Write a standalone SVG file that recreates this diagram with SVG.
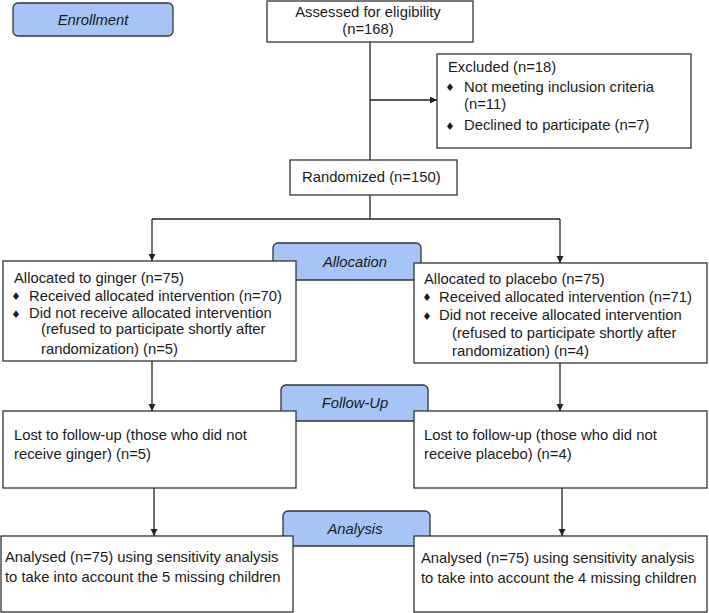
<svg xmlns="http://www.w3.org/2000/svg" width="709" height="613" viewBox="0 0 709 613">
<style>
  .box { fill: #ffffff; stroke: #333333; stroke-width: 1.3; }
  .lbl { fill: #a6c4f5; stroke: #333333; stroke-width: 1.3; }
  .t { font-family: "Liberation Sans", Arial, sans-serif; font-size: 14.8px; fill: #1a1a1a; }
  .ti { font-family: "Liberation Sans", Arial, sans-serif; font-size: 14.8px; font-style: italic; fill: #1a1a1a; text-anchor: middle; }
  .c { text-anchor: middle; }
  .b { font-family: "DejaVu Sans", sans-serif; font-size: 10.5px; fill: #1a1a1a; text-anchor: middle; }
  .ln { stroke: #222222; stroke-width: 1.3; fill: none; }
</style>
<defs>
  <marker id="ah" markerUnits="userSpaceOnUse" markerWidth="8" markerHeight="8" refX="7" refY="3.5" orient="auto">
    <path d="M0,0 L7,3.5 L0,7 z" fill="#222222"/>
  </marker>
</defs>
<rect width="709" height="613" fill="#ffffff"/>

<g id="label-enrollment">
  <rect class="lbl" x="13" y="3" width="160" height="33" rx="5"/>
  <text class="ti" x="93" y="25">Enrollment</text>
</g>
<g id="label-allocation">
  <rect class="lbl" x="273" y="243" width="148" height="37" rx="5"/>
  <text class="ti" x="355" y="267">Allocation</text>
</g>
<g id="label-followup">
  <rect class="lbl" x="281" y="385" width="147" height="36" rx="5"/>
  <text class="ti" x="355" y="408">Follow-Up</text>
</g>
<g id="label-analysis">
  <rect class="lbl" x="283" y="511" width="147" height="35" rx="5"/>
  <text class="ti" x="355" y="534">Analysis</text>
</g>

<g id="connectors">
  <line class="ln" x1="370" y1="42" x2="370" y2="160"/>
  <line class="ln" x1="370" y1="100" x2="437" y2="100" marker-end="url(#ah)"/>
  <line class="ln" x1="370" y1="195" x2="370" y2="219"/>
  <line class="ln" x1="152" y1="219" x2="560" y2="219"/>
  <line class="ln" x1="152" y1="219" x2="152" y2="261" marker-end="url(#ah)"/>
  <line class="ln" x1="560" y1="219" x2="560" y2="263" marker-end="url(#ah)"/>
  <line class="ln" x1="152" y1="361" x2="152" y2="411" marker-end="url(#ah)"/>
  <line class="ln" x1="560" y1="363" x2="560" y2="411" marker-end="url(#ah)"/>
  <line class="ln" x1="154" y1="488" x2="154" y2="536" marker-end="url(#ah)"/>
  <line class="ln" x1="562" y1="488" x2="562" y2="536" marker-end="url(#ah)"/>
</g>

<g id="assessed">
  <rect class="box" x="267" y="1" width="206" height="41"/>
  <text class="t c" x="368" y="17">Assessed for eligibility</text>
  <text class="t c" x="368" y="34">(n=168)</text>
</g>
<g id="excluded">
  <rect class="box" x="437" y="54" width="254" height="94"/>
  <text class="t" x="448" y="72">Excluded (n=18)</text>
  <text class="b" x="450" y="91">♦</text>
  <text class="t" x="464" y="91.5">Not meeting inclusion criteria</text>
  <text class="t" x="464" y="109">(n=11)</text>
  <text class="b" x="450" y="129.5">♦</text>
  <text class="t" x="464" y="130">Declined to participate (n=7)</text>
</g>
<g id="randomized">
  <rect class="box" x="290" y="160" width="167" height="35"/>
  <text class="t" x="302" y="182">Randomized (n=150)</text>
</g>
<g id="ginger">
  <rect class="box" x="3" y="261" width="293" height="100"/>
  <text class="t" x="14" y="282.7">Allocated to ginger (n=75)</text>
  <text class="b" x="16" y="300.3">♦</text>
  <text class="t" x="29" y="300.7">Received allocated intervention (n=70)</text>
  <text class="b" x="16" y="318">♦</text>
  <text class="t" x="29" y="318.3">Did not receive allocated intervention</text>
  <text class="t" x="41" y="333.5">(refused to participate shortly after</text>
  <text class="t" x="41" y="354">randomization) (n=5)</text>
</g>
<g id="placebo">
  <rect class="box" x="414" y="263" width="293" height="100"/>
  <text class="t" x="424" y="284">Allocated to placebo (n=75)</text>
  <text class="b" x="427" y="301.3">♦</text>
  <text class="t" x="439" y="301.7">Received allocated intervention (n=71)</text>
  <text class="b" x="427" y="319.6">♦</text>
  <text class="t" x="439" y="320">Did not receive allocated intervention</text>
  <text class="t" x="452" y="337.7">(refused to participate shortly after</text>
  <text class="t" x="452" y="355.5">randomization) (n=4)</text>
</g>
<g id="lost-ginger">
  <rect class="box" x="3" y="411" width="293" height="77"/>
  <text class="t" x="14" y="440">Lost to follow-up (those who did not</text>
  <text class="t" x="14" y="459">receive ginger) (n=5)</text>
</g>
<g id="lost-placebo">
  <rect class="box" x="414" y="411" width="293" height="77"/>
  <text class="t" x="424" y="440">Lost to follow-up (those who did not</text>
  <text class="t" x="424" y="459">receive placebo) (n=4)</text>
</g>
<g id="analysed-ginger">
  <rect class="box" x="1" y="536" width="292" height="76"/>
  <text class="t" x="5" y="562.3">Analysed (n=75) using sensitivity analysis</text>
  <text class="t" x="5" y="582.3">to take into account the 5 missing children</text>
</g>
<g id="analysed-placebo">
  <rect class="box" x="414" y="536" width="293" height="76"/>
  <text class="t" x="421" y="563">Analysed (n=75) using sensitivity analysis</text>
  <text class="t" x="421" y="583">to take into account the 4 missing children</text>
</g>
</svg>
